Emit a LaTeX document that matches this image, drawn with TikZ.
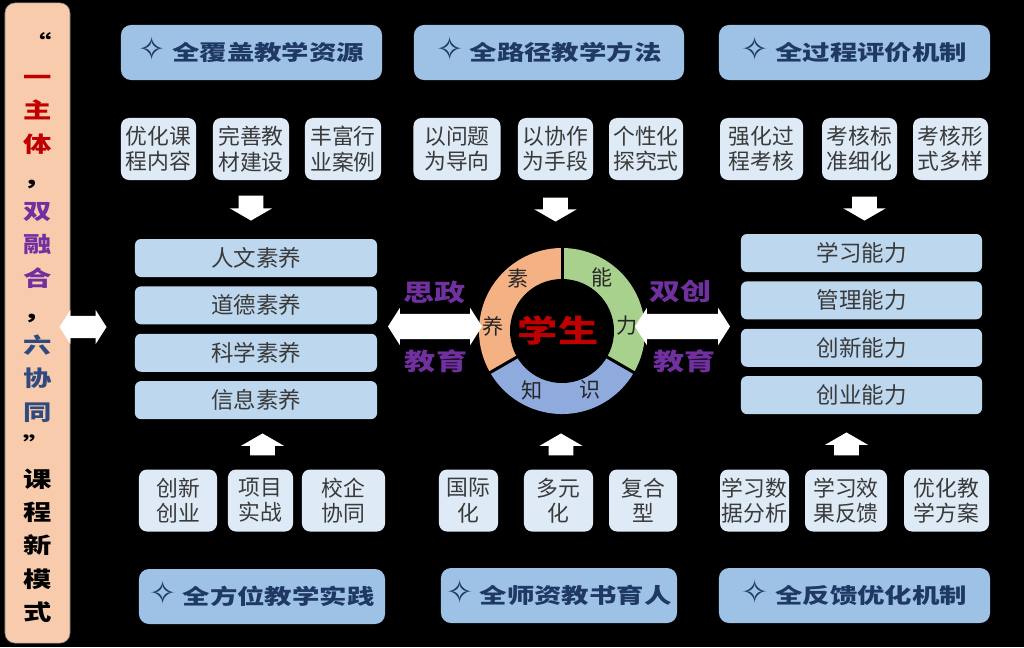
\documentclass[tikz,border=0pt]{standalone}
\usepackage{fontspec}
\setmainfont{Noto Sans CJK SC}
\newfontfamily\cjkwide[FakeStretch=1.3]{Noto Sans CJK SC}
\newfontfamily\symb{DejaVu Sans}
\usepackage{tikz}
\usetikzlibrary{shapes.arrows,positioning}
\usepackage{xcolor}
\definecolor{entete}{HTML}{9DC2E6}
\definecolor{pale}{HTML}{DEEBF7}
\definecolor{moyen}{HTML}{BDD7EE}
\definecolor{marine}{HTML}{1F3864}
\definecolor{gristexte}{HTML}{3A3A3A}
\definecolor{rouge}{HTML}{C00000}
\definecolor{violet}{HTML}{7030A0}
\definecolor{bleufonce}{HTML}{2F4A7F}
\definecolor{peche}{HTML}{F8CBAD}
\definecolor{anneauor}{HTML}{F4B183}
\definecolor{anneauvert}{HTML}{A9D18E}
\definecolor{anneaubleu}{HTML}{8FAADC}

\begin{document}
\begin{tikzpicture}[x=0.025cm, y=0.025cm, node distance=0.22cm]
\tikzstyle{titre}=[rounded corners=0.25cm, fill=entete, text=marine, minimum height=1.375cm,
                   inner sep=0pt, font=\fontsize{15}{18}\selectfont\cjkwide\bfseries]
\tikzstyle{case}=[rounded corners=0.2cm, fill=pale, text=gristexte, minimum height=1.55cm,
                  inner sep=0pt, align=center, font=\fontsize{15.5}{18}\selectfont]
\tikzstyle{bande}=[rounded corners=0.15cm, fill=moyen, text=gristexte, minimum height=0.95cm,
                   inner sep=0pt, font=\fontsize{16}{19}\selectfont]
\tikzstyle{fleche}=[single arrow, fill=white, inner xsep=0pt, inner ysep=0.3cm,
                    single arrow head extend=0.225cm, single arrow tip angle=120]
\tikzstyle{dfleche}=[double arrow, fill=white, inner xsep=0pt, inner ysep=0.31cm,
                     double arrow head extend=0.15cm, double arrow tip angle=115]
\tikzstyle{mot}=[text=violet, font=\fontsize{17}{20}\selectfont\cjkwide\bfseries]
\tikzstyle{lettre}=[text=black!85, font=\fontsize{15}{18}\selectfont]
\newcommand{\etoile}{\smash{\symb\fontsize{23}{19}\selectfont ✧}}

% fond noir
\fill[black] (0,0) rectangle (1024,-647);

% colonne de gauche
\node[rounded corners=0.25cm, fill=peche, draw=gray, minimum width=1.625cm, minimum height=16cm,
      inner sep=0pt] (cadre) at (37.5,-323) {};
\node[align=center, font=\fontsize{15.5}{23.8}\selectfont\cjkwide\bfseries] (modele) at (37.5,-328)
  {“\\\textcolor{rouge}{一}\\\textcolor{rouge}{主}\\\textcolor{rouge}{体}\\，\\
   \textcolor{violet}{双}\\\textcolor{violet}{融}\\\textcolor{violet}{合}\\，\\
   \textcolor{bleufonce}{六}\\\textcolor{bleufonce}{协}\\\textcolor{bleufonce}{同}\\”\\
   课\\程\\新\\模\\式};
\node[dfleche, minimum height=1.175cm, inner ysep=0.27cm] (lien) at (83,-327) {};

% titres
\node[titre, minimum width=6.525cm] (ressources) at (251.5,-52.5) {\etoile\ 全覆盖教学资源};
\node[titre, minimum width=6.75cm] (methodes) at (549,-52.5) {\etoile\ 全路径教学方法};
\node[titre, minimum width=6.775cm] (evaluation) at (854.5,-52.5) {\etoile\ 全过程评价机制};
\node[titre, minimum width=6.15cm] (pratique) at (262,-596.5) {\etoile\ 全方位教学实践};
\node[titre, minimum width=5.9cm] (enseignants) at (559,-595.5) {\etoile\ 全师资教书育人};
\node[titre, minimum width=6.775cm] (retour) at (854.5,-595.5) {\etoile\ 全反馈优化机制};

% cases du haut
\node[case, minimum width=1.875cm] (a1) at (158.5,-149) {优化课\\程内容};
\node[case, minimum width=1.9cm] (a2) at (251,-149) {完善教\\材建设};
\node[case, minimum width=1.9cm] (a3) at (343,-149) {丰富行\\业案例};
\node[case, minimum width=2.175cm] (b1) at (457,-149) {以问题\\为导向};
\node[case, minimum width=1.875cm] (b2) at (555.5,-149) {以协作\\为手段};
\node[case, minimum width=1.85cm] (b3) at (646,-149) {个性化\\探究式};
\node[case, minimum width=2.075cm] (c1) at (761.5,-149) {强化过\\程考核};
\node[case, minimum width=1.875cm] (c2) at (859.5,-149) {考核标\\准细化};
\node[case, minimum width=1.875cm] (c3) at (950.5,-149) {考核形\\式多样};

% cases du bas
\node[case, minimum width=1.95cm] (d1) at (178,-500.5) {创新\\创业};
\node[case, minimum width=1.625cm] (d2) at (260.5,-500.5) {项目\\实战};
\node[case, minimum width=2.075cm] (d3) at (343.5,-500.5) {校企\\协同};
\node[case, minimum width=1.475cm] (e1) at (468.5,-500.5) {国际\\化};
\node[case, minimum width=1.725cm] (e2) at (558.5,-500.5) {多元\\化};
\node[case, minimum width=1.7cm] (e3) at (643,-500.5) {复合\\型};
\node[case, minimum width=1.725cm] (f1) at (754.5,-500.5) {学习数\\据分析};
\node[case, minimum width=2.05cm] (f2) at (846,-500.5) {学习效\\果反馈};
\node[case, minimum width=2.125cm] (f3) at (946.5,-500.5) {优化教\\学方案};

% fleches verticales
\node[fleche, rotate=-90, minimum height=0.625cm] (bas1) at (251,-204.5) {};
\node[fleche, rotate=-90, minimum height=0.6cm] (bas2) at (555.5,-206) {};
\node[fleche, rotate=-90, minimum height=0.6cm] (bas3) at (864.5,-205) {};
\node[fleche, rotate=90, minimum height=0.55cm] (haut1) at (262.5,-448) {};
\node[fleche, rotate=90, minimum height=0.55cm] (haut2) at (561,-448) {};
\node[fleche, rotate=90, minimum height=0.575cm] (haut3) at (846.5,-447.5) {};

% bandes
\node[bande, minimum width=6.05cm] (s1) at (256,-258) {人文素养};
\node[bande, minimum width=6.05cm, below=of s1] (s2) {道德素养};
\node[bande, minimum width=6.05cm, below=of s2] (s3) {科学素养};
\node[bande, minimum width=6.05cm, below=of s3] (s4) {信息素养};
\node[bande, minimum width=6.025cm] (n1) at (861.5,-253) {学习能力};
\node[bande, minimum width=6.025cm, below=of n1] (n2) {管理能力};
\node[bande, minimum width=6.025cm, below=of n2] (n3) {创新能力};
\node[bande, minimum width=6.025cm, below=of n3] (n4) {创业能力};

% anneau
\coordinate (centre) at (562,-331);
\fill[anneauor] (centre) -- ++(90:83) arc[start angle=90, end angle=210, radius=83] -- cycle;
\fill[anneaubleu] (centre) -- ++(210:83) arc[start angle=210, end angle=330, radius=83] -- cycle;
\fill[anneauvert] (centre) -- ++(330:83) arc[start angle=330, end angle=450, radius=83] -- cycle;
\fill[black] (centre) circle[radius=52];
\foreach \a in {90,210,330}
  \draw[black, line width=0.075cm] (centre) -- ++(\a:85);
\node[text=rouge, font=\fontsize{22}{24}\selectfont\cjkwide\bfseries] (eleve) at (558,-330) {学生};
\node[lettre] (su) at (518,-278) {素};
\node[lettre] (yang) at (493,-326) {养};
\node[lettre] (neng) at (602,-277) {能};
\node[lettre] (li) at (627,-326) {力};
\node[lettre] (zhi) at (532,-390) {知};
\node[lettre] (shi) at (590,-390) {识};

% doubles fleches centrales
\node[dfleche, minimum height=2.35cm] (gauche) at (435,-326.5) {};
\node[dfleche, minimum height=2.375cm] (droite) at (682.5,-326.5) {};
\node[mot] (sizheng) at (434.5,-292) {思政};
\node[mot] (jiaoyu1) at (436,-361) {教育};
\node[mot] (shuangchuang) at (680.5,-291) {双创};
\node[mot] (jiaoyu2) at (684.5,-361) {教育};
\end{tikzpicture}
\end{document}
